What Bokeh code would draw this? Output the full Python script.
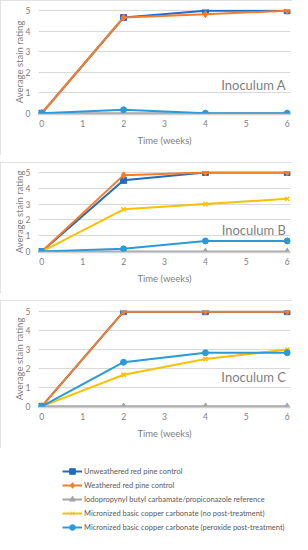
from bokeh.plotting import figure
from bokeh.models import Range1d, Label, Legend, LegendItem, FixedTicker, Title
from bokeh.layouts import column
from bokeh.embed import file_html
from bokeh.resources import INLINE

weeks = [0, 2, 4, 6]
x_ticks = [0, 1, 2, 3, 4, 5, 6]
y_ticks = [0, 1, 2, 3, 4, 5]

series_names = [
    "Unweathered red pine control",
    "Weathered red pine control",
    "Iodopropynyl butyl carbamate/propiconazole reference",
    "Micronized basic copper carbonate (no post-treatment)",
    "Micronized basic copper carbonate (peroxide post-treatment)",
]
colors = ["#1f6cc4", "#f57c2a", "#a5a5a5", "#ffc000", "#2a9ad8"]
markers = ["square", "diamond", "triangle", "x", "circle"]
marker_sizes = [6, 7, 6, 6, 6]

# Inoculum A (no series for untreated copper carbonate shown)
a_unweathered = [0, 4.67, 5.0, 5.0]
a_weathered = [0, 4.67, 4.83, 5.0]
a_ipbc = [0, 0, 0, 0]
a_mbcc_none = []
a_mbcc_perox = [0, 0.17, 0, 0]

# Inoculum B
b_unweathered = [0, 4.5, 5.0, 5.0]
b_weathered = [0, 4.83, 5.0, 5.0]
b_ipbc = [0, 0, 0, 0]
b_mbcc_none = [0, 2.67, 3.0, 3.33]
b_mbcc_perox = [0, 0.17, 0.67, 0.67]

# Inoculum C
c_unweathered = [0, 5.0, 5.0, 5.0]
c_weathered = [0, 5.0, 5.0, 5.0]
c_ipbc = [0, 0, 0, 0]
c_mbcc_none = [0, 1.67, 2.5, 3.0]
c_mbcc_perox = [0, 2.33, 2.83, 2.83]

panel_labels = ["Inoculum A", "Inoculum B", "Inoculum C"]

W = 292
FONT = "Lato"
GRAY = "#7f7f7f"
BOX_STYLE = {"outline": "1px solid #d9d9d9", "outline-offset": "-1px"}


def make_panel(h, top, data, label, label_y):
    p = figure(width=W, height=h, output_backend="svg", toolbar_location=None,
               x_range=Range1d(-0.08, 6.08), y_range=Range1d(-0.06, 5.06),
               min_border_left=0, min_border_right=2, min_border_top=top,
               min_border_bottom=41, styles=BOX_STYLE)
    p.outline_line_color = None
    p.xgrid.grid_line_color = None
    p.ygrid.grid_line_color = "#d9d9d9"
    p.ygrid.grid_line_width = 1
    p.xaxis.ticker = FixedTicker(ticks=x_ticks)
    p.yaxis.ticker = FixedTicker(ticks=y_ticks)
    for ax in (p.xaxis, p.yaxis):
        ax.major_tick_line_color = None
        ax.minor_tick_line_color = None
        ax.major_tick_out = 0
        ax.major_tick_in = 0
        ax.minor_tick_out = 0
        ax.major_label_text_font = FONT
        ax.major_label_text_font_size = "8.5px"
        ax.major_label_text_color = "#808080"
        ax.axis_label_text_font = FONT
        ax.axis_label_text_font_size = "9.5px"
        ax.axis_label_text_font_style = "normal"
        ax.axis_label_text_color = GRAY
    p.xaxis.axis_line_color = "#d0d0d0"
    p.xaxis.axis_line_width = 1.5
    p.yaxis.axis_line_color = None
    p.xaxis.axis_label = "Time (weeks)"
    p.yaxis.axis_label = "Average stain rating"
    p.xaxis.major_label_standoff = 5
    p.xaxis.axis_label_standoff = 5
    p.yaxis.major_label_standoff = 8
    p.yaxis.axis_label_standoff = -2
    # blank spacer on the far left, outside the axis title
    p.add_layout(Title(text=" ", text_font_size="8px", standoff=-1), "left")
    for vals, c, m, s in zip(data, colors, markers, marker_sizes):
        if not vals:
            continue
        p.line(weeks, vals, line_color=c, line_width=2)
        p.scatter(weeks, vals, marker=m, size=s, fill_color=c, line_color=c,
                  line_width=1.5 if m == "x" else 1)
    p.add_layout(Label(x=5.97, y=label_y, text=label, text_align="right",
                       text_baseline="middle", text_font=FONT,
                       text_font_size="13px", text_color=GRAY))
    return p


pa = make_panel(155, 9, [a_unweathered, a_weathered, a_ipbc, a_mbcc_none, a_mbcc_perox],
                panel_labels[0], 1.37)
pb = make_panel(131, 9, [b_unweathered, b_weathered, b_ipbc, b_mbcc_none, b_mbcc_perox],
                panel_labels[1], 1.37)
pc = make_panel(148, 10, [c_unweathered, c_weathered, c_ipbc, c_mbcc_none, c_mbcc_perox],
                panel_labels[2], 1.53)

LH = 79
pl = figure(width=W, height=LH, output_backend="svg", toolbar_location=None,
            x_range=Range1d(0, 1), y_range=Range1d(0, 1),
            min_border=0, min_border_left=0, min_border_right=0,
            min_border_top=0, min_border_bottom=0)
pl.axis.visible = False
pl.grid.visible = False
pl.outline_line_color = None
items = []
for name, c, m, s in zip(series_names, colors, markers, marker_sizes):
    r1 = pl.line([-5, -4], [-5, -4], line_color=c, line_width=2)
    r2 = pl.scatter([-5], [-5], marker=m, size=s - 1, fill_color=c, line_color=c)
    items.append(LegendItem(label=name, renderers=[r1, r2]))
leg = Legend(items=items, location=(24, 0), orientation="vertical",
             glyph_width=20, glyph_height=14, label_height=14, spacing=0,
             padding=0, margin=0, label_standoff=2,
             label_text_font=FONT, label_text_font_size="7.5px",
             label_text_color="#595959", border_line_color=None,
             background_fill_alpha=0)
pl.add_layout(leg, "center")

layout = column(pa, pb, pc, pl, spacing=7)
open("out.html", "w").write(file_html(layout, INLINE))
